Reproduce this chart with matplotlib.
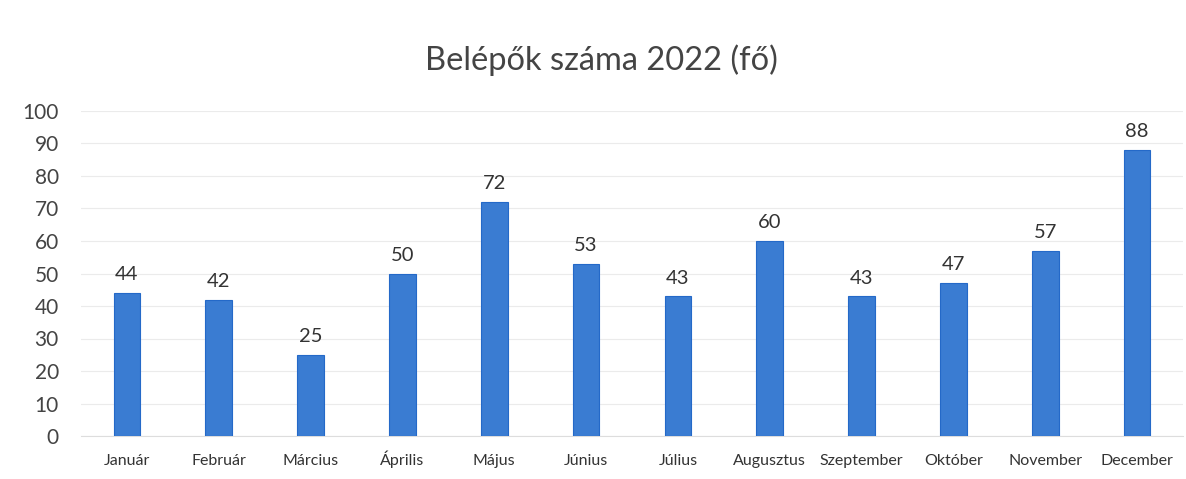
import matplotlib
matplotlib.use("Agg")
import matplotlib.pyplot as plt

months = ["Január", "Február", "Március", "Április", "Május", "Június",
          "Július", "Augusztus", "Szeptember", "Október", "November", "December"]
values = [44, 42, 25, 50, 72, 53, 43, 60, 43, 47, 57, 88]
yticks = [0, 10, 20, 30, 40, 50, 60, 70, 80, 90, 100]
title = "Belépők száma 2022 (fő)"

plt.rcParams['font.family'] = ['Lato', 'DejaVu Sans']

fig = plt.figure(figsize=(11.86, 4.79), dpi=100)
ax = fig.add_axes([81/1186, 43/479, (1183-81)/1186, (436-111)/479])

x = list(range(len(months)))
bars = ax.bar(x, values, width=0.29, color='#3A7CD2', edgecolor='#2469C8', linewidth=0.8, zorder=3)
for xi, v in zip(x, values):
    ax.text(xi, v + 3, str(v), ha='center', va='bottom', fontsize=14.5, color='#333333')

ax.set_xlim(-0.5, len(months) - 0.5)
ax.set_ylim(0, 100)
ax.set_yticks(yticks)
ax.set_yticklabels([str(t) for t in yticks], fontsize=15, color='#444444')
ax.set_xticks(x)
ax.set_xticklabels(months, fontsize=11.5, color='#333333', va='baseline')
ax.tick_params(axis='both', length=0)
ax.tick_params(axis='y', pad=16)
ax.tick_params(axis='x', pad=21)
ax.yaxis.grid(True, color='#EBEBEB', linewidth=0.8, zorder=0)
for s in ['top', 'right', 'left']:
    ax.spines[s].set_visible(False)
ax.spines['bottom'].set_color('#DDDDDD')

fig.text(0.507, 1 - 60/479, title, ha='center', va='center', fontsize=23.5, color='#444444')

fig.savefig('out.png', dpi=100)
